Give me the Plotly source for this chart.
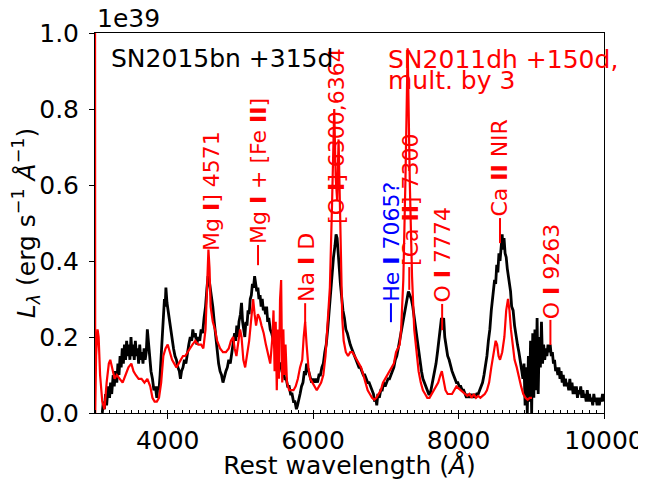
import plotly.graph_objects as go

# SN2015bn +315d (black), rest wavelength (Å) and L_lambda (1e39 erg/s/Å)
bn_wave = [3100, 3115, 3130, 3145, 3160, 3180, 3200, 3215, 3230, 3250, 3265, 3280, 3300, 3315,
           3330, 3345, 3360, 3375, 3390, 3405, 3420, 3435, 3450, 3465, 3480, 3495, 3510, 3525,
           3540, 3555, 3570, 3585, 3600, 3615, 3630, 3645, 3660, 3675, 3690, 3705, 3720, 3735,
           3750, 3770, 3790, 3810, 3830, 3850, 3865, 3880, 3895, 3910, 3925, 3940, 3955, 3965,
           3975, 3990, 4005, 4020, 4040, 4060, 4080, 4100, 4120, 4140, 4160, 4175, 4190, 4210,
           4230, 4250, 4270, 4290, 4310, 4330, 4345, 4360, 4380, 4400, 4420, 4440, 4460, 4480,
           4500, 4520, 4540, 4555, 4570, 4585, 4600, 4620, 4640, 4660, 4680, 4700, 4720, 4740,
           4760, 4780, 4800, 4820, 4840, 4860, 4880, 4900, 4920, 4935, 4950, 4965, 4980, 5000,
           5015, 5030, 5045, 5060, 5075, 5090, 5105, 5120, 5135, 5150, 5165, 5180, 5195, 5210,
           5225, 5240, 5255, 5270, 5285, 5300, 5315, 5330, 5345, 5360, 5375, 5390, 5410, 5430,
           5450, 5470, 5490, 5510, 5530, 5550, 5570, 5590, 5610, 5630, 5650, 5670, 5690, 5710,
           5730, 5750, 5770, 5785, 5800, 5820, 5840, 5860, 5880, 5895, 5910, 5925, 5940, 5960,
           5980, 6000, 6020, 6040, 6060, 6080, 6100, 6120, 6140, 6160, 6180, 6200, 6220, 6240,
           6260, 6280, 6300, 6315, 6330, 6345, 6360, 6375, 6390, 6410, 6430, 6450, 6470, 6490,
           6510, 6530, 6550, 6570, 6590, 6610, 6630, 6650, 6670, 6690, 6710, 6730, 6750, 6770,
           6790, 6810, 6830, 6845, 6860, 6875, 6890, 6910, 6930, 6950, 6970, 6990, 7010, 7030,
           7050, 7070, 7090, 7110, 7130, 7150, 7170, 7190, 7210, 7230, 7250, 7270, 7290, 7310,
           7330, 7350, 7370, 7390, 7410, 7430, 7450, 7470, 7490, 7510, 7530, 7550, 7570, 7590,
           7610, 7630, 7650, 7670, 7690, 7710, 7730, 7750, 7765, 7780, 7795, 7810, 7830, 7850,
           7870, 7890, 7910, 7930, 7950, 7970, 7990, 8010, 8030, 8050, 8070, 8090, 8110, 8130,
           8150, 8170, 8190, 8210, 8230, 8250, 8270, 8290, 8310, 8330, 8350, 8370, 8390, 8410,
           8430, 8450, 8465, 8480, 8495, 8510, 8525, 8540, 8555, 8570, 8585, 8600, 8610, 8625,
           8640, 8655, 8670, 8685, 8700, 8715, 8730, 8750, 8770, 8790, 8810, 8830, 8850, 8870,
           8885, 8900, 8915, 8930, 8945, 8960, 8975, 8990, 9005, 9020, 9035, 9050, 9065, 9080,
           9095, 9110, 9125, 9140, 9155, 9170, 9185, 9200, 9215, 9230, 9245, 9260, 9275, 9290,
           9305, 9320, 9335, 9350, 9365, 9380, 9395, 9410, 9425, 9440, 9455, 9470, 9485, 9500,
           9515, 9530, 9545, 9560, 9575, 9590, 9605, 9620, 9635, 9650, 9665, 9680, 9695, 9710,
           9725, 9740, 9755, 9770, 9785, 9800, 9815, 9830, 9845, 9860, 9875, 9890, 9905, 9920,
           9935, 9950, 9965, 9980, 9995]
bn_flux = [0.00, 0.03, 0.01, 0.05, 0.02, 0.07, 0.04, 0.08, 0.05, 0.10, 0.07, 0.11, 0.08, 0.13,
           0.10, 0.15, 0.12, 0.17, 0.13, 0.18, 0.14, 0.19, 0.15, 0.18, 0.14, 0.20, 0.15, 0.18,
           0.14, 0.19, 0.15, 0.17, 0.13, 0.18, 0.14, 0.16, 0.13, 0.17, 0.14, 0.16, 0.22, 0.19,
           0.14, 0.11, 0.09, 0.06, 0.07, 0.04, 0.07, 0.06, 0.10, 0.16, 0.21, 0.26, 0.30, 0.28,
           0.33, 0.29, 0.27, 0.24, 0.22, 0.19, 0.17, 0.15, 0.14, 0.12, 0.11, 0.09, 0.11, 0.12,
           0.14, 0.13, 0.16, 0.18, 0.20, 0.19, 0.22, 0.20, 0.21, 0.18, 0.20, 0.19, 0.22, 0.21,
           0.25, 0.28, 0.33, 0.36, 0.35, 0.33, 0.30, 0.28, 0.24, 0.20, 0.16, 0.13, 0.11, 0.10,
           0.08, 0.10, 0.11, 0.12, 0.14, 0.13, 0.16, 0.18, 0.21, 0.19, 0.23, 0.20, 0.24, 0.26,
           0.29, 0.24, 0.21, 0.20, 0.24, 0.23, 0.27, 0.26, 0.30, 0.31, 0.34, 0.33, 0.36, 0.34,
           0.32, 0.33, 0.30, 0.31, 0.28, 0.30, 0.27, 0.28, 0.26, 0.28, 0.24, 0.25, 0.22, 0.21,
           0.19, 0.18, 0.16, 0.15, 0.13, 0.13, 0.11, 0.11, 0.09, 0.09, 0.07, 0.07, 0.05, 0.05,
           0.03, 0.03, 0.01, 0.02, 0.03, 0.05, 0.07, 0.08, 0.11, 0.10, 0.13, 0.12, 0.11, 0.09,
           0.08, 0.09, 0.08, 0.09, 0.08, 0.10, 0.10, 0.12, 0.13, 0.16, 0.18, 0.22, 0.27, 0.31,
           0.36, 0.41, 0.44, 0.47, 0.46, 0.43, 0.38, 0.34, 0.30, 0.27, 0.25, 0.22, 0.21, 0.19,
           0.18, 0.17, 0.16, 0.15, 0.14, 0.13, 0.12, 0.12, 0.11, 0.10, 0.10, 0.09, 0.08, 0.08,
           0.07, 0.06, 0.05, 0.03, 0.04, 0.02, 0.05, 0.04, 0.06, 0.06, 0.08, 0.07, 0.08, 0.09,
           0.09, 0.10, 0.11, 0.12, 0.14, 0.15, 0.17, 0.19, 0.21, 0.24, 0.26, 0.28, 0.30, 0.32,
           0.31, 0.30, 0.28, 0.25, 0.22, 0.19, 0.16, 0.13, 0.11, 0.09, 0.08, 0.07, 0.06, 0.05,
           0.05, 0.07, 0.08, 0.10, 0.13, 0.16, 0.20, 0.23, 0.25, 0.24, 0.25, 0.20, 0.17, 0.15,
           0.14, 0.12, 0.11, 0.10, 0.09, 0.08, 0.08, 0.07, 0.07, 0.06, 0.06, 0.05, 0.04, 0.05,
           0.04, 0.05, 0.04, 0.05, 0.04, 0.05, 0.05, 0.06, 0.07, 0.08, 0.10, 0.12, 0.15, 0.19,
           0.22, 0.27, 0.30, 0.33, 0.35, 0.34, 0.39, 0.37, 0.42, 0.40, 0.45, 0.47, 0.43, 0.46,
           0.42, 0.41, 0.38, 0.36, 0.33, 0.32, 0.28, 0.27, 0.23, 0.20, 0.18, 0.16, 0.14, 0.11,
           0.09, 0.13, 0.02, 0.12, 0.00, 0.15, 0.03, 0.19, 0.00, 0.21, 0.04, 0.22, 0.06, 0.25,
           0.05, 0.20, 0.12, 0.24, 0.13, 0.18, 0.14, 0.17, 0.15, 0.18, 0.16, 0.18, 0.15, 0.16,
           0.13, 0.14, 0.11, 0.12, 0.10, 0.12, 0.09, 0.11, 0.08, 0.10, 0.07, 0.09, 0.07, 0.08,
           0.06, 0.09, 0.06, 0.08, 0.05, 0.07, 0.05, 0.07, 0.04, 0.06, 0.05, 0.07, 0.04, 0.06,
           0.04, 0.05, 0.03, 0.06, 0.03, 0.05, 0.03, 0.04, 0.02, 0.05, 0.03, 0.04, 0.02, 0.04,
           0.02, 0.04, 0.03, 0.05, 0.03]

# SN2011dh +150d multiplied by 3 (red)
dh_wave = [3000, 3003, 3015, 3035, 3050, 3070, 3100, 3130, 3160, 3190, 3210, 3240, 3270, 3300,
           3340, 3380, 3420, 3460, 3500, 3530, 3560, 3600, 3640, 3680, 3720, 3760, 3790, 3820,
           3850, 3880, 3910, 3940, 3970, 4000, 4030, 4060, 4090, 4120, 4150, 4180, 4210, 4240,
           4270, 4300, 4340, 4380, 4420, 4460, 4490, 4520, 4545, 4560, 4575, 4590, 4620, 4650,
           4680, 4720, 4760, 4800, 4840, 4870, 4900, 4920, 4945, 4970, 4995, 5015, 5040, 5065,
           5090, 5120, 5150, 5175, 5195, 5215, 5240, 5265, 5290, 5320, 5350, 5380, 5410, 5440,
           5455, 5470, 5485, 5500, 5515, 5530, 5545, 5560, 5575, 5590, 5605, 5620, 5640, 5670,
           5700, 5730, 5760, 5790, 5820, 5850, 5870, 5890, 5910, 5935, 5960, 5990, 6020, 6050,
           6080, 6110, 6140, 6170, 6200, 6230, 6260, 6290, 6310, 6330, 6350, 6375, 6400, 6420,
           6450, 6480, 6510, 6540, 6570, 6600, 6630, 6660, 6690, 6720, 6750, 6780, 6810, 6840,
           6870, 6900, 6930, 6960, 6990, 7020, 7050, 7080, 7110, 7140, 7170, 7190, 7210, 7240,
           7270, 7300, 7330, 7360, 7390, 7420, 7450, 7480, 7510, 7540, 7570, 7600, 7630, 7660,
           7690, 7720, 7750, 7770, 7790, 7820, 7850, 7880, 7910, 7940, 7970, 8000, 8030, 8060,
           8090, 8120, 8150, 8180, 8210, 8240, 8270, 8300, 8330, 8360, 8390, 8420, 8450, 8480,
           8510, 8530, 8550, 8570, 8600, 8630, 8655, 8680, 8700, 8720, 8745, 8770, 8800, 8830,
           8860, 8890, 8920, 8950, 8980, 9010]
dh_flux = [1.30, 0.00, 0.15, 0.22, 0.20, 0.10, 0.03, 0.01, 0.08, 0.13, 0.14, 0.11, 0.09, 0.10,
           0.09, 0.08, 0.10, 0.12, 0.13, 0.11, 0.10, 0.09, 0.09, 0.08, 0.09, 0.07, 0.04, 0.03,
           0.03, 0.04, 0.08, 0.15, 0.17, 0.18, 0.16, 0.14, 0.13, 0.12, 0.13, 0.14, 0.15, 0.15,
           0.16, 0.17, 0.18, 0.19, 0.18, 0.18, 0.17, 0.22, 0.35, 0.43, 0.38, 0.28, 0.24, 0.22,
           0.19, 0.17, 0.16, 0.16, 0.17, 0.19, 0.20, 0.17, 0.15, 0.18, 0.22, 0.20, 0.14, 0.12,
           0.15, 0.19, 0.25, 0.30, 0.26, 0.23, 0.26, 0.25, 0.23, 0.21, 0.18, 0.15, 0.13, 0.20,
           0.27, 0.11, 0.24, 0.06, 0.22, 0.09, 0.30, 0.35, 0.08, 0.22, 0.10, 0.18, 0.08, 0.06,
           0.06, 0.06, 0.07, 0.09, 0.12, 0.14, 0.20, 0.24, 0.18, 0.12, 0.09, 0.08, 0.07, 0.06,
           0.07, 0.08, 0.10, 0.15, 0.24, 0.33, 0.55, 0.80, 0.62, 0.56, 0.72, 0.45, 0.25, 0.19,
           0.16, 0.15, 0.16, 0.16, 0.15, 0.14, 0.13, 0.12, 0.10, 0.08, 0.06, 0.05, 0.04, 0.035,
           0.04, 0.05, 0.06, 0.08, 0.09, 0.10, 0.11, 0.12, 0.13, 0.16, 0.17, 0.18, 0.22, 0.35,
           0.62, 0.96, 0.60, 0.36, 0.22, 0.16, 0.11, 0.08, 0.06, 0.05, 0.04, 0.04, 0.05, 0.06,
           0.07, 0.08, 0.10, 0.11, 0.09, 0.06, 0.05, 0.05, 0.05, 0.06, 0.07, 0.065, 0.06, 0.055,
           0.05, 0.045, 0.05, 0.04, 0.05, 0.04, 0.045, 0.04, 0.045, 0.05, 0.06, 0.08, 0.12, 0.16,
           0.19, 0.18, 0.15, 0.14, 0.16, 0.20, 0.27, 0.30, 0.27, 0.22, 0.18, 0.14, 0.12, 0.09,
           0.07, 0.05, 0.04, 0.035, 0.04, 0.04]

# Line identifications: text, text x, text bottom, colour, marker line (x, y0) or None
line_labels = ["Mg <b>I</b>] 4571", "Mg <b>I</b> + [Fe <b>II</b>]", "Na <b>I</b> D",
               "[O <b>I</b>] 6300,6364", "He <b>I</b> 7065?", "[Ca <b>II</b>] 7300",
               "O <b>I</b> 7774", "Ca <b>II</b> NIR", "O <b>I</b> 9263"]
label_x = [4610, 5242, 5905, 6328, 7080, 7330, 7774, 8570, 9270]
label_y = [0.424, 0.442, 0.289, 0.495, 0.289, 0.384, 0.287, 0.513, 0.245]
label_color = ["red", "red", "red", "red", "blue", "red", "red", "red", "red"]
mark_x = [None, 5242, 5890, None, 7070, 7322, 7774, 8570, 9263]
mark_y0 = [None, 0.389, 0.237, None, 0.239, 0.324, 0.218, 0.447, 0.179]

xticks = [4000, 6000, 8000, 10000]
yticks = [0.0, 0.2, 0.4, 0.6, 0.8, 1.0]

FONT = "DejaVu Sans"

fig = go.Figure()
fig.add_trace(go.Scatter(x=bn_wave, y=bn_flux, mode="lines",
                         line=dict(color="black", width=2.8), showlegend=False))
fig.add_trace(go.Scatter(x=dh_wave, y=dh_flux, mode="lines",
                         line=dict(color="red", width=2.2), showlegend=False))

for txt, lx, ly, col, mx, my0 in zip(line_labels, label_x, label_y, label_color, mark_x, mark_y0):
    fig.add_annotation(x=lx, y=ly, xref="x", yref="y", text=txt, textangle=-90,
                       showarrow=False, xanchor="center", yanchor="bottom", borderpad=0,
                       font=dict(family=FONT, size=22, color=col))
    if mx is not None:
        fig.add_shape(type="line", xref="x", yref="y", x0=mx, x1=mx, y0=my0, y1=ly,
                      line=dict(color=col, width=2))

fig.add_annotation(x=3200, y=0.932, xref="x", yref="y", text="SN2015bn +315d",
                   showarrow=False, xanchor="left", yanchor="middle", borderpad=0,
                   font=dict(family=FONT, size=25, color="black"))
fig.add_annotation(x=7015, y=0.929, xref="x", yref="y", text="SN2011dh +150d,",
                   showarrow=False, xanchor="left", yanchor="middle", borderpad=0,
                   font=dict(family=FONT, size=25, color="red"))
fig.add_annotation(x=7015, y=0.876, xref="x", yref="y", text="mult. by 3",
                   showarrow=False, xanchor="left", yanchor="middle", borderpad=0,
                   font=dict(family=FONT, size=25, color="red"))
fig.add_annotation(x=0, y=1, xref="paper", yref="paper", text="1e39",
                   showarrow=False, xanchor="left", yanchor="bottom", borderpad=0, xshift=1,
                   yshift=-1, font=dict(family=FONT, size=25, color="black"))

fig.update_xaxes(range=[3000, 10000], tickvals=xticks, ticktext=[str(v) for v in xticks],
                 ticks="outside", ticklen=5, tickwidth=1, tickcolor="black",
                 showline=True, linecolor="black", linewidth=1, mirror=True,
                 showgrid=False, zeroline=False, automargin=False, ticklabeloverflow="allow",
                 minor=dict(dtick=100, tick0=3000, ticks="inside", ticklen=3,
                            tickcolor="black", tickwidth=1, showgrid=False),
                 tickfont=dict(family=FONT, size=25, color="black"),
                 title=dict(text="Rest wavelength (<i>Å</i>)", standoff=6,
                            font=dict(family=FONT, size=25, color="black")))
fig.update_yaxes(range=[0, 1], tickvals=yticks, ticktext=[f"{v:.1f}" for v in yticks],
                 ticks="outside", ticklen=5, tickwidth=1, tickcolor="black",
                 showline=True, linecolor="black", linewidth=1, mirror=True,
                 showgrid=False, zeroline=False, automargin=False, ticklabelstandoff=5,
                 tickfont=dict(family=FONT, size=25, color="black"),
                 title=dict(text="<i>L</i><sub><i>λ</i></sub> (erg s<sup>−1</sup> <i>Å</i><sup>−1</sup>)",
                            standoff=1, font=dict(family=FONT, size=25, color="black")))

# the page body adds an 8 px offset; the figure is made wide enough that the
# right-hand tick label is not cut by the figure's own edge
fig.update_layout(width=646, height=472, margin=dict(l=87, r=50, t=25, b=67),
                  plot_bgcolor="white", paper_bgcolor="white", showlegend=False)

fig.write_html("out.html",
               post_script="document.documentElement.style.overflow='hidden';"
                           "document.body.style.overflow='hidden';")
